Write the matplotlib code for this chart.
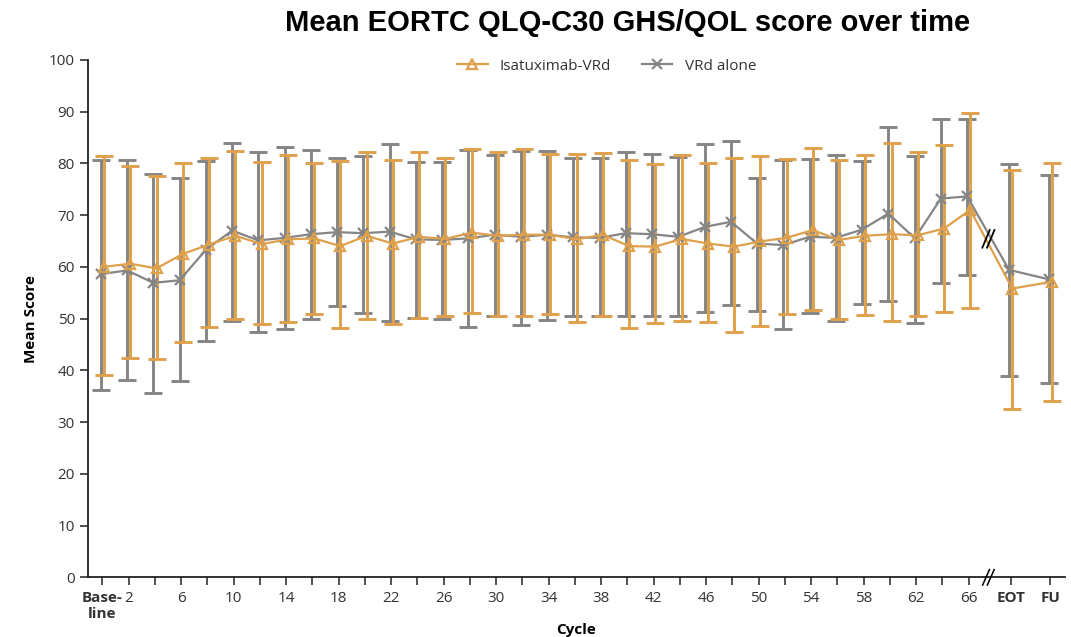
import numpy as np
import matplotlib
matplotlib.use("Agg")
from matplotlib import pyplot as plt
from matplotlib.lines import Line2D
from matplotlib.transforms import blended_transform_factory

# visit labels (BL, cycles 2..66, end of treatment, follow-up)
cycle_labels = ["Base-\nline"] + [str(c) for c in range(2, 68, 2)] + ["EOT", "FU"]

# Isatuximab-VRd
iv_mean = [60.0, 60.6, 59.7, 62.5, 64.3, 66.0, 64.4, 65.3, 65.5, 64.0, 66.0, 64.5,
           65.8, 65.4, 66.6, 66.0, 66.2, 66.2, 65.3, 66.2, 64.0, 63.9, 65.4, 64.5,
           63.9, 64.9, 65.6, 67.1, 65.2, 66.0, 66.3, 66.1, 67.4, 71.0, 55.8, 57.1]
iv_lo = [39.1, 42.3, 42.1, 45.4, 48.4, 49.9, 48.9, 49.4, 50.9, 48.1, 49.9, 48.9,
         50.2, 50.4, 51.0, 50.4, 50.4, 50.8, 49.3, 50.4, 48.1, 49.1, 49.5, 49.3,
         47.5, 48.6, 50.9, 51.7, 49.9, 50.7, 49.6, 50.5, 51.3, 52.0, 32.5, 34.1]
iv_hi = [81.4, 79.5, 77.6, 80.0, 81.0, 82.4, 80.3, 81.6, 80.0, 80.5, 82.1, 80.6,
         82.1, 81.0, 82.7, 82.2, 82.7, 81.8, 81.8, 81.9, 80.6, 79.9, 81.6, 80.1,
         81.0, 81.5, 80.8, 83.0, 80.6, 81.6, 83.9, 82.2, 83.5, 89.8, 78.7, 80.1]

# VRd alone
vrd_mean = [58.6, 59.3, 56.9, 57.4, 63.3, 67.0, 65.1, 65.6, 66.3, 66.7, 66.5, 66.8,
            65.3, 65.2, 65.5, 66.2, 65.8, 66.2, 65.7, 65.6, 66.5, 66.3, 65.8, 67.7,
            68.7, 64.5, 64.2, 65.8, 65.6, 67.2, 70.3, 65.5, 73.2, 73.6, 59.4, 57.6]
vrd_lo = [36.2, 38.1, 35.6, 38.0, 45.6, 49.6, 47.5, 48.0, 49.9, 52.4, 51.1, 49.6,
          50.2, 49.9, 48.4, 50.4, 48.7, 49.7, 50.4, 50.4, 50.5, 50.4, 50.5, 51.3,
          52.6, 51.5, 47.9, 51.0, 49.6, 52.9, 53.4, 49.1, 56.8, 58.5, 38.9, 37.6]
vrd_hi = [80.6, 80.6, 77.9, 77.1, 80.5, 83.9, 82.1, 83.2, 82.6, 81.0, 81.4, 83.7,
          80.3, 80.3, 82.6, 81.6, 82.4, 82.4, 81.0, 81.0, 82.1, 81.8, 81.3, 83.7,
          84.3, 77.2, 80.6, 80.8, 81.6, 80.5, 87.0, 81.4, 88.5, 88.5, 79.9, 77.7]

ORANGE = "#DFA04C"
GREY = "#858585"
FONT = ["Open Sans", "DejaVu Sans"]

plt.rcParams["font.family"] = FONT

# x positions: one slot per visit, then a gap for the axis break
xpos = np.concatenate([np.arange(34), [34.6, 36.1]])
dodge = 0.06

fig = plt.figure(figsize=(10.71, 6.37), dpi=100)
ax = fig.add_axes([0.0822, 0.0937, 0.912, 0.8124])


def draw_series(x, mean, lo, hi, color, marker, ms, label):
    mean = np.array(mean)
    err = [mean - np.array(lo), np.array(hi) - mean]
    ax.errorbar(x, mean, yerr=err, fmt="none", ecolor=color, elinewidth=2.1,
                capsize=6.5, capthick=2.1, zorder=2)
    ax.plot(x, mean, color=color, lw=1.6, marker=marker, ms=ms, mfc="none",
            mec=color, mew=1.6, zorder=3, label=label)


draw_series(xpos - dodge, vrd_mean, vrd_lo, vrd_hi, GREY, "x", 7.5, "VRd alone")
draw_series(xpos + dodge, iv_mean, iv_lo, iv_hi, ORANGE, "^", 7, "Isatuximab-VRd")

# break marks: on the data lines and on the x axis
xb = 33.75
yb = np.mean([np.interp(xb, xpos, iv_mean), np.interp(xb, xpos, vrd_mean)])
for dx in (-0.09, 0.09):
    ax.plot([xb + dx - 0.14, xb + dx + 0.14], [yb - 1.7, yb + 1.7], color="black",
            lw=1.3, zorder=5)
trans = blended_transform_factory(ax.transData, ax.transAxes)
for dx in (-0.09, 0.09):
    ax.plot([xb + dx - 0.13, xb + dx + 0.13], [-0.015, 0.015], color="black",
            lw=1.1, transform=trans, clip_on=False, zorder=5)

ax.set_xlim(-0.55, 36.66)
ax.set_ylim(0, 100)
ax.set_yticks(np.arange(0, 101, 10))
ax.set_xticks(xpos)
shown = []
for i, lab in enumerate(cycle_labels):
    if i == 0 or i >= 34 or i % 2 == 1:
        shown.append(lab)
    else:
        shown.append("")
ax.set_xticklabels(shown)
for i, t in enumerate(ax.get_xticklabels()):
    if i == 0 or i >= 34:
        t.set_fontweight("bold")
        t.set_color("black")

for s in ("top", "right"):
    ax.spines[s].set_visible(False)
for s in ("left", "bottom"):
    ax.spines[s].set_linewidth(1.3)
    ax.spines[s].set_color("#222222")
ax.tick_params(axis="both", direction="out", length=6, width=1.1, colors="#222222",
               labelsize=11, labelcolor="#333333")
ax.tick_params(axis="x", pad=4)

ax.set_ylabel("Mean Score", fontsize=11, fontweight="bold", labelpad=8)
ax.set_xlabel("Cycle", fontsize=11, fontweight="bold", labelpad=1)

handles = [Line2D([], [], color=ORANGE, lw=1.6, marker="^", ms=7, mfc="none", mew=1.6),
           Line2D([], [], color=GREY, lw=1.6, marker="x", ms=7.5, mew=1.6)]
ax.legend(handles, ["Isatuximab-VRd", "VRd alone"], loc="center", ncol=2,
          bbox_to_anchor=(0.531, 0.988), frameon=False, fontsize=11,
          handlelength=2.0, columnspacing=2.0, labelcolor="#333333")

fig.text(0.586, 0.964, "Mean EORTC QLQ-C30 GHS/QOL score over time",
         ha="center", va="center", fontsize=21, fontweight="bold",
         family=["Liberation Sans", "DejaVu Sans"])

fig.savefig("out.png", dpi=100)
